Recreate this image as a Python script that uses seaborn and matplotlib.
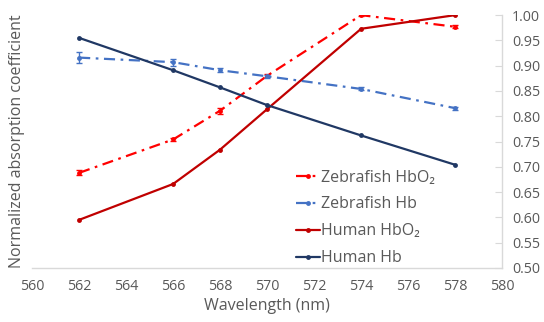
import matplotlib
matplotlib.use('Agg')
import matplotlib.pyplot as plt
import pandas as pd
import seaborn as sns

# values
wavelength = [562, 566, 568, 570, 574, 578]
zebrafish_hbo2 = [0.688, 0.754, 0.811, 0.880, 1.000, 0.977]
zebrafish_hb = [0.916, 0.907, 0.891, 0.879, 0.854, 0.816]
human_hbo2 = [0.595, 0.666, 0.734, 0.814, 0.973, 1.000]
human_hb = [0.955, 0.891, 0.857, 0.822, 0.762, 0.704]
zebrafish_hbo2_err = [0.005, 0.003, 0.006, 0.003, 0.002, 0.003]
zebrafish_hb_err = [0.011, 0.007, 0.004, 0.003, 0.003, 0.003]

series = [
    ('Zebrafish HbO₂', zebrafish_hbo2, zebrafish_hbo2_err, '#FF0000', (5, 2.5, 1.2, 2.5)),
    ('Zebrafish Hb', zebrafish_hb, zebrafish_hb_err, '#4472C4', (5, 2.5, 1.2, 2.5)),
    ('Human HbO₂', human_hbo2, None, '#C00000', ''),
    ('Human Hb', human_hb, None, '#203864', ''),
]

sns.set_style('white')
plt.rcParams['font.family'] = ['Open Sans', 'DejaVu Sans']
grey = '#595959'

fig = plt.figure(figsize=(5.44, 3.22), dpi=100)
ax = fig.add_axes([0.059, 0.168, 0.864, 0.785])

for name, vals, err, color, dash in series:
    df = pd.DataFrame({'x': wavelength, 'y': vals})
    sns.lineplot(data=df, x='x', y='y', ax=ax, color=color, linewidth=1.6,
                 marker='o', markersize=3.5, markeredgewidth=0, label=name)
    line = ax.get_lines()[-1]
    if dash:
        line.set_dashes(dash)
    if err is not None:
        ax.errorbar(wavelength, vals, yerr=err, fmt='none', ecolor=color,
                    elinewidth=1, capsize=2.5, capthick=1)

ax.set_xlim(560, 580)
ax.set_ylim(0.5, 1.0)
ax.set_xticks(range(560, 581, 2))
ax.set_xticks(range(560, 581, 1), minor=True)
ax.set_yticks([0.5 + 0.05 * i for i in range(11)])
ax.yaxis.set_major_formatter(matplotlib.ticker.FormatStrFormatter('%.2f'))
ax.yaxis.tick_right()
ax.yaxis.set_label_position('left')

for s in ['top', 'left']:
    ax.spines[s].set_visible(False)
for s in ['bottom', 'right']:
    ax.spines[s].set_color('#D9D9D9')
    ax.spines[s].set_linewidth(1)

ax.tick_params(axis='both', which='both', direction='in', colors='#D9D9D9',
               labelcolor=grey, labelsize=10.3)
ax.tick_params(axis='x', which='major', length=5, pad=8)
ax.tick_params(axis='x', which='minor', length=5)
ax.tick_params(axis='y', length=5, pad=7)

ax.set_xlabel('Wavelength (nm)', color=grey, fontsize=11.5, labelpad=3)
ax.set_ylabel('Normalized absorption coefficient', color=grey, fontsize=11.5, labelpad=5)

leg = ax.legend(loc='lower left', bbox_to_anchor=(0.53, -0.05), frameon=False,
                fontsize=11.5, handlelength=1.5, handletextpad=0.1,
                labelspacing=0.68, labelcolor=grey)

fig.savefig('out.png', dpi=100)
